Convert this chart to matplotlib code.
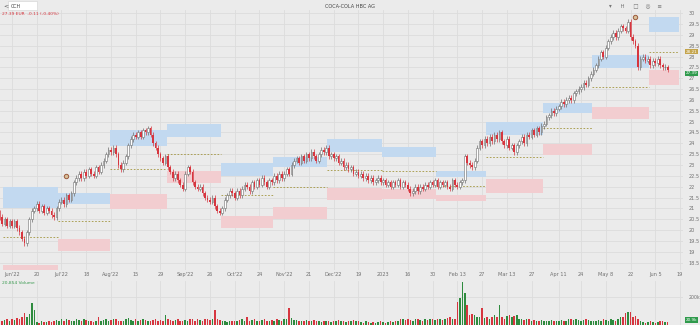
import numpy as np
import pandas as pd
import matplotlib
matplotlib.use("Agg")
import matplotlib.pyplot as plt
from matplotlib.patches import Rectangle

# daily closes (EUR), one row per week starting Mon 2022-05-30
close = [
    20.6, 20.3, 20.5, 20.2, 20.4,
    20.2, 20.4, 20.1, 19.9, 19.6,
    19.4, 19.9, 20.5, 20.9, 21.0,
    21.2, 20.9, 21.1, 20.8, 21.0,
    20.9, 20.7, 20.6, 21.0, 21.3,
    21.4, 21.2, 21.6, 21.4, 21.7,
    22.2, 22.4, 22.6, 22.4, 22.7,
    22.5, 22.8, 22.6, 22.5, 22.9,
    22.7, 23.0, 23.2, 23.5, 23.7,
    23.6, 23.8, 23.5, 23.0, 22.8,
    23.1, 23.4, 23.9, 24.2, 24.4,
    24.3, 24.5, 24.3, 24.6, 24.5,
    24.7, 24.4, 24.0, 23.8, 23.5,
    23.3, 23.1, 23.4, 22.9, 22.7,
    22.4, 22.6, 22.3, 22.1, 21.9,
    22.6, 22.9, 22.7, 22.2, 22.0,
    21.9, 22.0, 21.7, 21.5, 21.4,
    21.3, 21.5, 21.1, 20.9, 20.8,
    21.0, 21.4, 21.6, 21.8, 21.7,
    21.5, 21.8, 21.6, 21.9, 22.1,
    22.0, 21.8, 22.2, 22.0, 22.3,
    22.1, 22.4, 22.2, 22.0, 22.3,
    22.2, 22.5, 22.3, 22.6, 22.4,
    22.6, 22.8, 22.6, 23.0, 23.2,
    23.3, 23.1, 23.4, 23.2, 23.5,
    23.3, 23.6, 23.4, 23.2, 23.5,
    23.7, 23.6, 23.8, 23.4, 23.5,
    23.3, 23.4, 23.1, 23.2, 22.9,
    23.0, 22.8, 22.9, 22.6, 22.7,
    22.5, 22.6, 22.4, 22.5, 22.3,
    22.4, 22.2, 22.3, 22.4, 22.2,
    22.3, 22.1, 22.2, 22.0, 22.2,
    22.1, 22.3, 22.0, 22.2, 22.1,
    21.9, 21.7, 21.8, 22.0, 21.8,
    22.0, 21.9, 22.1, 22.0, 22.2,
    22.1, 22.3, 22.0, 22.2, 22.1,
    22.2, 22.0, 21.9, 22.3, 22.1,
    22.0, 22.2, 22.3, 23.4, 23.1,
    23.0, 22.9, 23.2, 23.8, 24.1,
    23.9, 24.2, 24.0, 24.3, 24.1,
    24.4, 24.2, 24.5, 24.1, 23.9,
    24.2, 23.8, 23.9, 23.6, 23.9,
    24.1, 24.3, 24.0, 24.4, 24.3,
    24.6, 24.4, 24.7, 24.5, 24.8,
    24.9, 25.2, 25.3, 25.5, 25.4,
    25.6, 25.7, 25.9, 25.8, 26.0,
    26.1, 26.0, 26.3, 26.4, 26.5,
    26.6, 26.8, 26.7, 27.0, 27.2,
    27.4, 27.6, 27.9, 28.2, 28.0,
    28.4, 28.7, 28.9, 29.1, 28.9,
    29.2, 29.4, 29.3, 29.2, 29.6,
    28.9, 28.7, 28.5, 27.5, 27.9,
    28.0, 27.8, 27.9, 27.6, 27.8,
    27.7, 27.9, 27.6, 27.5, 27.5,
    27.39,
]
first_open = 20.8

# daily volume, thousands of shares
volume = [
    30, 25, 35, 40, 28,
    45, 38, 50, 42, 60,
    85, 55, 75, 160, 110,
    20, 15, 25, 18, 22,
    30, 20, 25, 35, 28,
    40, 30, 45, 35, 25,
    30, 45, 35, 28, 40,
    35, 25, 30, 20, 25,
    60, 30, 35, 40, 30,
    35, 45, 40, 30, 25,
    30, 40, 50, 35, 30,
    45, 30, 35, 40, 35,
    30, 25, 35, 40, 30,
    35, 30, 70, 40, 35,
    30, 35, 40, 30, 25,
    35, 30, 40, 45, 30,
    40, 35, 30, 45, 40,
    35, 40, 105, 45, 35,
    25, 30, 20, 25, 30,
    30, 25, 35, 40, 30,
    55, 30, 35, 40, 30,
    30, 35, 40, 30, 25,
    35, 30, 40, 35, 30,
    40, 45, 120, 50, 35,
    35, 30, 25, 30, 35,
    30, 25, 35, 30, 25,
    20, 25, 30, 25, 20,
    25, 30, 35, 25, 30,
    20, 25, 30, 35, 25,
    25, 20, 15, 25, 20,
    15, 20, 15, 20, 25,
    20, 15, 20, 25, 20,
    25, 30, 45, 40, 35,
    40, 35, 30, 45, 40,
    35, 30, 40, 35, 45,
    40, 35, 45, 40, 35,
    45, 50, 55, 40, 45,
    165, 195, 310, 230, 145,
    70, 80, 70, 60, 55,
    120, 50, 60, 45, 55,
    70, 60, 145, 55, 40,
    65, 70, 60, 65, 70,
    45, 40, 35, 40, 45,
    30, 35, 30, 25, 35,
    30, 25, 30, 35, 30,
    25, 30, 35, 30, 25,
    40, 45, 35, 40, 35,
    30, 35, 40, 35, 30,
    25, 30, 35, 30, 40,
    35, 30, 40, 35, 30,
    45, 55, 60, 85, 95,
    90, 60, 65, 45, 30,
    20, 15, 20, 25, 20,
    15, 20, 30, 25, 20,
    20.854,
]

# monthly zones (blue = upper, red = lower, dashed = mid level)
zone_months = ["2022-06", "2022-07", "2022-08", "2022-09", "2022-10", "2022-11", "2022-12",
               "2023-01", "2023-02", "2023-03", "2023-04", "2023-05", "2023-06"]
blue_top = [21.99, 21.71, 24.62, 24.89, 23.09, 23.37, 24.20, 23.83, 22.73, 24.98, 25.86, 28.07, 29.82]
blue_bot = [21.02, 21.21, 23.88, 24.29, 22.50, 22.91, 23.60, 23.37, 22.45, 24.38, 25.40, 27.47, 29.13]
mid_level = [19.68, 20.42, 22.82, 23.51, 21.60, 21.99, 22.75, 22.73, 22.03, 23.37, 24.71, 26.60, 28.21]
red_top = [18.38, 19.59, 21.67, 22.73, 20.65, 21.07, 21.94, 21.90, 21.62, 22.36, 23.97, 25.68, 27.38]
red_bot = [18.15, 19.04, 20.97, 22.17, 20.10, 20.51, 21.39, 21.44, 21.34, 21.71, 23.46, 25.12, 26.69]
zone_end = "2023-06-19"

# event markers
event_dates = ["2022-07-06", "2023-05-24"]
event_price = [22.5, 29.82]

tick_dates = ["2022-06-06", "2022-06-20", "2022-07-04", "2022-07-18", "2022-08-01", "2022-08-15",
              "2022-08-29", "2022-09-12", "2022-09-26", "2022-10-10", "2022-10-24", "2022-11-07",
              "2022-11-21", "2022-12-05", "2022-12-19", "2023-01-02", "2023-01-16", "2023-01-30",
              "2023-02-13", "2023-02-27", "2023-03-13", "2023-03-27", "2023-04-11", "2023-04-24",
              "2023-05-08", "2023-05-22", "2023-06-05", "2023-06-19"]
tick_labels = ["Jun'22", "20", "Jul'22", "18", "Aug'22", "15", "29", "Sep'22", "26", "Oct'22",
               "24", "Nov'22", "21", "Dec'22", "19", "2023", "16", "30", "Feb 13", "27",
               "Mar 13", "27", "Apr 11", "24", "May 8", "22", "Jun 5", "19"]

BG = "#ebebeb"
GRID = "#dcdcdc"
UP_EDGE = "#6f6f6f"
DOWN = "#d6363f"
VOL_UP = "#2e8b3e"
TXT = "#707070"
Y0, Y1 = 18.16, 30.145

close = np.array(close)
volume = np.array(volume)
open_ = np.r_[first_open, close[:-1]]
n = len(close)
x = np.arange(n)
days = pd.bdate_range("2022-05-30", "2023-06-30")

def day_index(d):
    return int(days.searchsorted(pd.Timestamp(d)))

fig = plt.figure(figsize=(7, 3.25), dpi=100, facecolor=BG)
ax = fig.add_axes([0, 1 - 270 / 325, 683 / 700, 260 / 325], facecolor=BG)
vax = fig.add_axes([0, 0, 683 / 700, 44 / 325], facecolor=BG)

# zones
starts = [day_index(m + "-01") for m in zone_months] + [day_index(zone_end)]
for k in range(len(zone_months)):
    x0, x1 = starts[k] - 0.5, starts[k + 1] - 0.5
    ax.add_patch(Rectangle((x0, blue_bot[k]), x1 - x0, blue_top[k] - blue_bot[k],
                           facecolor="#c2d9f0", edgecolor="none", zorder=1))
    ax.add_patch(Rectangle((x0, red_bot[k]), x1 - x0, red_top[k] - red_bot[k],
                           facecolor="#f2cdd0", edgecolor="none", zorder=1))
    ax.hlines(mid_level[k], x0, x1, colors="#a3963f", lw=0.6, linestyles=(0, (2, 2)), zorder=2)

# candles
up = close >= open_
body_lo = np.minimum(open_, close)
body_h = np.maximum(np.abs(close - open_), 0.03)
wick = 0.12
ax.vlines(x, body_lo - wick, body_lo + body_h + wick,
          colors=np.where(up, UP_EDGE, DOWN), lw=0.5, zorder=3)
ax.bar(x[up], body_h[up], bottom=body_lo[up], width=0.7, facecolor="white",
       edgecolor=UP_EDGE, lw=0.4, zorder=4)
ax.bar(x[~up], body_h[~up], bottom=body_lo[~up], width=0.7, color=DOWN, lw=0, zorder=4)

ev_x = [day_index(d) for d in event_dates]
ax.scatter(ev_x, event_price, s=10, facecolor="#d8c09a", edgecolor="#9b5a3c", lw=0.7, zorder=5)

xt = [day_index(d) for d in tick_dates]
for a in (ax, vax):
    a.set_xlim(0.15, 276.2)
    a.set_xticks(xt)
    a.grid(axis="x", color=GRID, lw=0.6, zorder=0)
    for s in a.spines.values():
        s.set_visible(False)
    a.set_axisbelow(True)

ax.set_xticklabels(tick_labels)
ax.tick_params(axis="x", length=0, pad=1.5, labelsize=3.6, labelcolor=TXT)
ax.set_ylim(Y0, Y1)
yt = np.arange(18.5, 30.01, 0.5)
ax.set_yticks(yt)
ax.yaxis.tick_right()
ax.set_yticklabels([f"{v:g}" for v in yt])
ax.tick_params(axis="y", length=0, pad=4, labelsize=3.6, labelcolor=TXT)
ax.grid(axis="y", color=GRID, lw=0.6, zorder=0)

# volume pane
vcol = np.where(up, VOL_UP, DOWN)
vax.bar(x, volume, width=0.62, color=vcol, lw=0, zorder=3)
vax.set_ylim(0, 314)
vax.set_yticks([200])
vax.set_yticklabels(["200k"])
vax.yaxis.tick_right()
vax.tick_params(axis="y", length=0, pad=4, labelsize=3.4, labelcolor=TXT)
vax.tick_params(axis="x", length=0, labelbottom=False)
vax.grid(axis="y", color=GRID, lw=0.6, zorder=0)

# price tags on the right, placed between the axis labels
tag = dict(transform=ax.transAxes, fontsize=3.0, color="white", va="center", ha="left")
ax.text(1.004, (28.23 - Y0) / (Y1 - Y0), f"{mid_level[-1]:.2f}",
        bbox=dict(boxstyle="square,pad=0.15", fc="#c4a44c", ec="none"), **tag)
ax.text(1.004, (27.22 - Y0) / (Y1 - Y0), f"{close[-1]:.2f}",
        bbox=dict(boxstyle="square,pad=0.15", fc="#2f9a4c", ec="none"), **tag)
vax.text(1.004, 0.12, f"{volume[-1]:.1f}k", transform=vax.transAxes,
         fontsize=3.0, color="white", va="center", ha="left",
         bbox=dict(boxstyle="square,pad=0.2", fc="#2f9a4c", ec="none"))

# header
fig.patches.append(Rectangle((8 / 700, 1 - 10 / 325), 29 / 700, 9 / 325, transform=fig.transFigure,
                             facecolor="white", edgecolor="#d0d0d0", lw=0.4))
fig.text(3 / 700, 1 - 6 / 325, "<", fontsize=4.5, color="#555555", va="center")
fig.text(11 / 700, 1 - 6 / 325, "CCH", fontsize=3.4, color="#444444", va="center")
fig.text(0.5, 1 - 6 / 325, "COCA-COLA HBC AG", fontsize=3.6, color="#444444", ha="center", va="center")
fig.text(609 / 700, 1 - 6 / 325, "\u25be     H     \u25a1    \u25ce    \u2261", fontsize=4,
         color="#777777", va="center")
fig.text(2 / 700, 1 - 14 / 325, f"{close[-1]:.2f} EUR  -0.11 (-0.40%)", fontsize=3.2,
         color="#d6363f", va="center")
fig.text(2 / 700, 1 - 283 / 325, f"{volume[-1] * 1000:,.0f} Volume", fontsize=3.2,
         color="#3a9a50", va="center")

fig.savefig("out.png", dpi=100, facecolor=BG)
